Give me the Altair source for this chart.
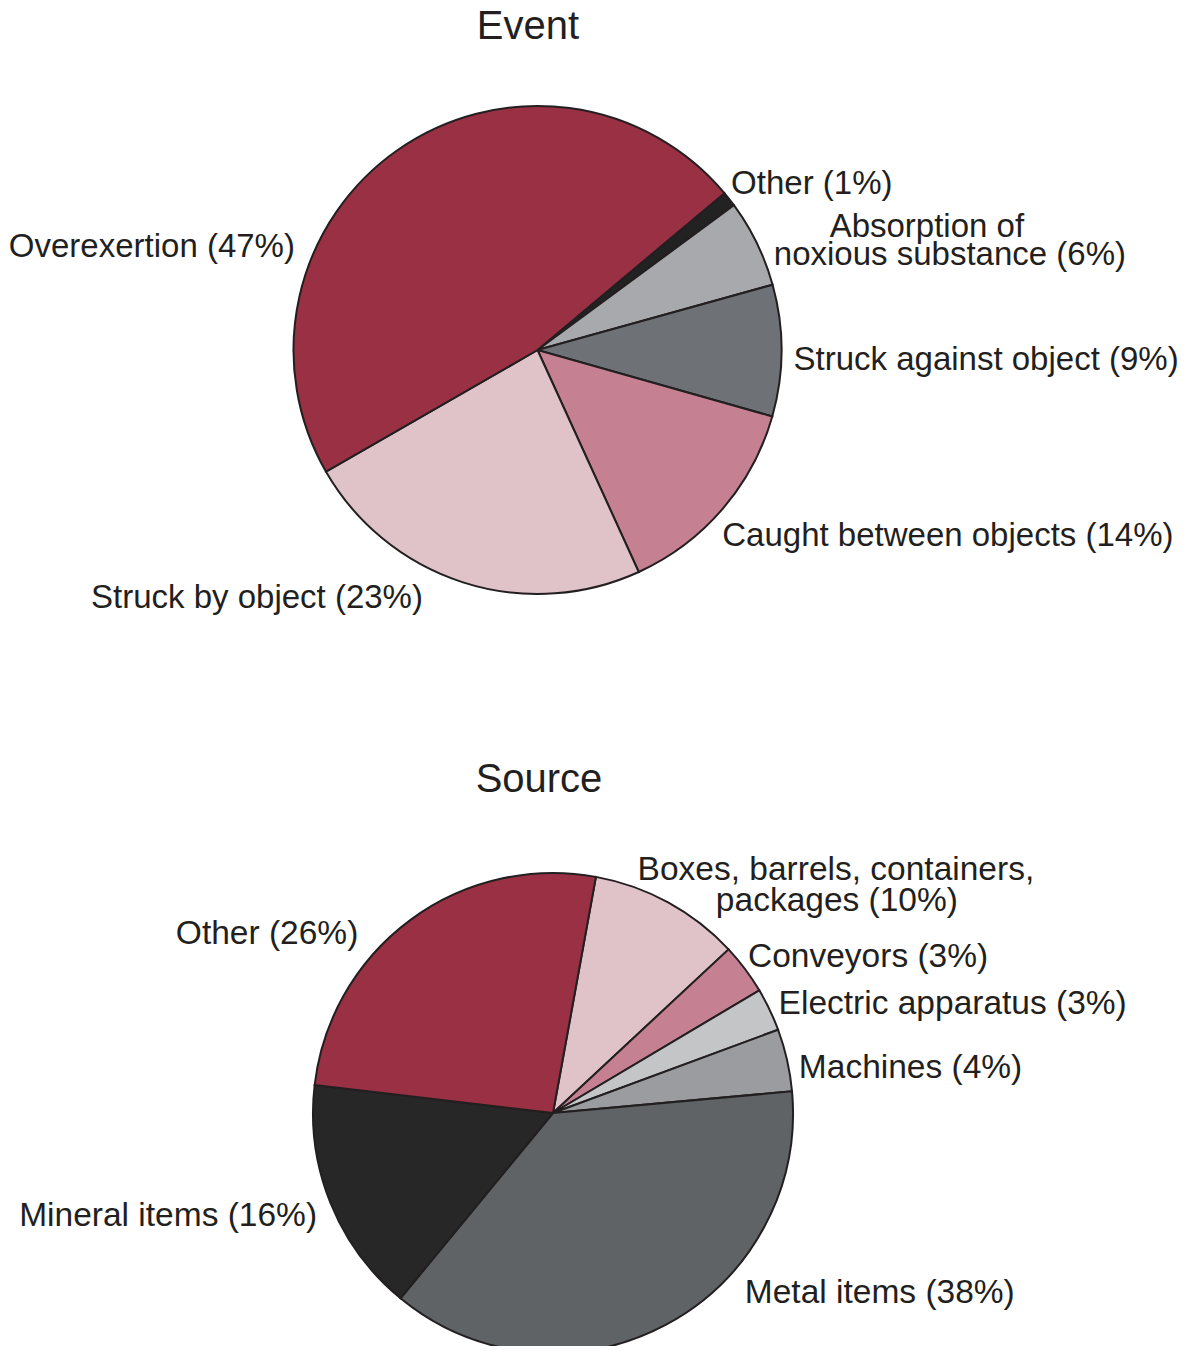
import math
import altair as alt
import pandas as pd

# ---------------- data ----------------
event_cats = ["Other", "Absorption of noxious substance", "Struck against object",
              "Caught between objects", "Struck by object", "Overexertion"]
event_vals = [1.0, 5.8, 8.7, 13.8, 23.5, 47.2]
event_labels = ["Other (1%)", "Absorption of\nnoxious substance (6%)",
                "Struck against object (9%)", "Caught between objects (14%)",
                "Struck by object (23%)", "Overexertion (47%)"]

source_cats = ["Boxes, barrels, containers, packages", "Conveyors", "Electric apparatus",
               "Machines", "Metal items", "Mineral items", "Other"]
source_vals = [10.2, 3.4, 2.9, 4.2, 37.4, 15.9, 26.0]
source_labels = ["Boxes, barrels, containers,\npackages (10%)", "Conveyors (3%)",
                 "Electric apparatus (3%)", "Machines (4%)", "Metal items (38%)",
                 "Mineral items (16%)", "Other (26%)"]

titles = ["Event", "Source"]

# ---------------- styles ----------------
event_colors = ["#222222", "#a8a9ad", "#6e7176", "#c58191", "#e0c3c8", "#9a3044"]
source_colors = ["#e0c3c8", "#c58191", "#c4c5c7", "#9b9c9f", "#5f6366", "#272727", "#9a3044"]

# label layout: (align, [(dx, dy) for each text line])
event_label_layout = [("left", [(-6, 1)]),
                      ("center", [(161, -2), (184, 26)]),
                      ("left", [(2, 19)]),
                      ("left", [(-8, 31)]),
                      ("right", [(-37, 16)]),
                      ("right", [(-97, 115)])]
source_label_layout = [("center", [(163, -14), (164, 17)]),
                       ("left", [(-5, 4)]),
                       ("left", [(0, 9)]),
                       ("left", [(2, 20)]),
                       ("left", [(75, -31)]),
                       ("right", [(-4, 20)]),
                       ("right", [(-46, 32)])]

FONT = "Liberation Sans, Arial, Helvetica, sans-serif"
TEXT_COLOR = "#231f20"
STROKE = "#231f20"


def pie(cats, vals, labels, colors, layout, cx, cy, r, start_deg, label_size):
    df = pd.DataFrame({"idx": list(range(len(cats))), "cat": cats,
                       "value": vals, "label": labels})
    a0 = math.radians(start_deg)
    th_scale = alt.Scale(domain=[0, 100], range=[a0, a0 + 2 * math.pi])
    arcs = alt.Chart().mark_arc(radius=r, stroke=STROKE, strokeWidth=2).encode(
        theta=alt.Theta("start:Q", scale=th_scale),
        theta2="end:Q",
        color=alt.Color("cat:N", scale=alt.Scale(domain=cats, range=colors), legend=None),
        x=alt.value(cx),
        y=alt.value(cy),
    )
    layers = [arcs]
    for i, (align, lines) in enumerate(layout):
        for k, (dx, dy) in enumerate(lines):
            t = alt.Chart().mark_text(
                radius=r + 10, align=align, baseline="alphabetic", dx=dx, dy=dy,
                fontSize=label_size, font=FONT, color=TEXT_COLOR,
            ).encode(
                theta=alt.Theta("mid:Q", scale=th_scale),
                text="line:N",
                x=alt.value(cx),
                y=alt.value(cy),
            ).transform_filter(
                alt.datum.idx == i
            ).transform_calculate(
                line=f"split(datum.label, '\\n')[{k}]"
            )
            layers.append(t)
    return alt.layer(*layers, data=df).transform_window(
        cum="sum(value)", sort=[alt.SortField("idx", order="ascending")]
    ).transform_calculate(
        start="datum.cum - datum.value",
        end="datum.cum",
        mid="datum.cum - datum.value / 2",
    )


event_pie = pie(event_cats, event_vals, event_labels, event_colors,
                event_label_layout, 529.5, 342, 244, 50.0, 33)
source_pie = pie(source_cats, source_vals, source_labels, source_colors,
                 source_label_layout, 545, 1105, 240, 10.3, 33.5)

title_df = pd.DataFrame({"t": titles})
title_event = alt.Chart(title_df).mark_text(
    fontSize=40, font=FONT, color=TEXT_COLOR, align="center", baseline="alphabetic"
).encode(text="t:N", x=alt.value(520), y=alt.value(31)).transform_filter(alt.datum.t == "Event")
title_source = alt.Chart(title_df).mark_text(
    fontSize=40, font=FONT, color=TEXT_COLOR, align="center", baseline="alphabetic"
).encode(text="t:N", x=alt.value(531), y=alt.value(784)).transform_filter(alt.datum.t == "Source")

chart = alt.layer(event_pie, source_pie, title_event, title_source).resolve_scale(
    theta="independent", color="independent"
).properties(
    width=1170, height=1338, padding=0,
    autosize=alt.AutoSizeParams(type="none"),
    background="white",
).configure_view(stroke=None)

chart.save("out.html", embed_options={"renderer": "svg", "actions": False})
